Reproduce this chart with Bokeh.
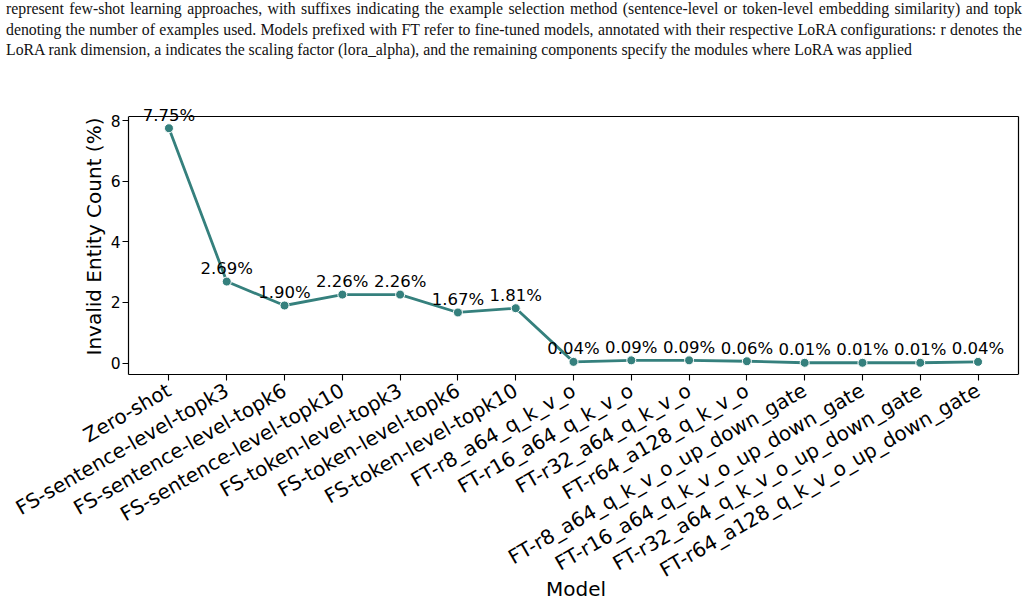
import math

from bokeh.embed import file_html
from bokeh.layouts import column
from bokeh.models import ColumnDataSource, Div, FixedTicker, Label, Range1d
from bokeh.plotting import figure
from bokeh.resources import INLINE

# Models compared, in plotting order
models = [
    "Zero-shot",
    "FS-sentence-level-topk3",
    "FS-sentence-level-topk6",
    "FS-sentence-level-topk10",
    "FS-token-level-topk3",
    "FS-token-level-topk6",
    "FS-token-level-topk10",
    "FT-r8_a64_q_k_v_o",
    "FT-r16_a64_q_k_v_o",
    "FT-r32_a64_q_k_v_o",
    "FT-r64_a128_q_k_v_o",
    "FT-r8_a64_q_k_v_o_up_down_gate",
    "FT-r16_a64_q_k_v_o_up_down_gate",
    "FT-r32_a64_q_k_v_o_up_down_gate",
    "FT-r64_a128_q_k_v_o_up_down_gate",
]

# Share of invalid entities per model (%)
invalid_pct = [7.75, 2.69, 1.90, 2.26, 2.26, 1.67, 1.81,
               0.04, 0.09, 0.09, 0.06, 0.01, 0.01, 0.01, 0.04]

y_ticks = [0, 2, 4, 6, 8]

caption_lines = [
    "represent few-shot learning approaches, with suffixes indicating the example selection method "
    "(sentence-level or token-level embedding similarity) and topk",
    "denoting the number of examples used. Models prefixed with FT refer to fine-tuned models, "
    "annotated with their respective LoRA configurations: r denotes the",
    "LoRA rank dimension, a indicates the scaling factor (lora_alpha), and the remaining components "
    "specify the modules where LoRA was applied",
]

LINE_COLOR = "#35807d"
SANS = "DejaVu Sans"

# Models sit at integer positions along x; the axis shows their names
xpos = list(range(len(models)))
src = ColumnDataSource(dict(x=xpos, pct=invalid_pct))

# Caption above the chart, justified like a paper figure caption
line_divs = "".join(
    '<div style="white-space:nowrap;text-align:justify;'
    f'text-align-last:{"justify" if i < 2 else "left"};">{line}</div>'
    for i, line in enumerate(caption_lines)
)
caption_html = (
    '<div style="width:1016px;margin:-1px 0 0 6px;'
    "font-family:'Liberation Serif',serif;font-size:15.8px;line-height:20.5px;"
    f'color:#111111;">{line_divs}</div>'
)
CAPTION_H = 62
caption = Div(text=caption_html, width=1029, height=CAPTION_H, margin=0,
              styles={"overflow": "hidden"})

# Axes box (data limits with 5% margins)
lo, hi = min(invalid_pct), max(invalid_pct)
ypad = 0.05 * (hi - lo)
xpad = 0.05 * (len(models) - 1)
box_x0, box_x1 = -xpad, len(models) - 1 + xpad
box_y0, box_y1 = lo - ypad, hi + ypad

# Box geometry in pixels; the drawing frame is a little larger than the box
# (above and to the right) so value labels can rise past the box's top edge.
BOX_LEFT, BOX_TOP, BOX_W, BOX_H = 128, 116, 890, 258
EXTRA_TOP, EXTRA_RIGHT = 18, 5
fig_w, fig_h = 1029, 605 - CAPTION_H

x_end = box_x1 + (box_x1 - box_x0) * EXTRA_RIGHT / BOX_W
y_end = box_y1 + (box_y1 - box_y0) * EXTRA_TOP / BOX_H

p = figure(
    x_range=Range1d(box_x0, x_end),
    y_range=Range1d(box_y0, y_end),
    width=fig_w, height=fig_h,
    min_border_left=BOX_LEFT,
    min_border_right=fig_w - BOX_LEFT - BOX_W - EXTRA_RIGHT,
    min_border_top=BOX_TOP - CAPTION_H - EXTRA_TOP,
    min_border_bottom=fig_h - (BOX_TOP - CAPTION_H) - BOX_H,
    output_backend="svg", toolbar_location=None,
    margin=0,
)
p.outline_line_color = None
p.xgrid.visible = False
p.ygrid.visible = False

# Top and right edges of the axes box
p.segment(x0=[box_x0, box_x1], y0=[box_y1, box_y0],
          x1=[box_x1, box_x1], y1=[box_y1, box_y1],
          line_color="black", line_width=1.2)

p.line("x", "pct", source=src, line_color=LINE_COLOR, line_width=2.8)
p.scatter("x", "pct", source=src, size=9, fill_color=LINE_COLOR,
          line_color="white", line_width=1)

# Value labels above each point
for xi, v in zip(xpos, invalid_pct):
    p.add_layout(Label(
        x=xi, y=v, text=f"{v:.2f}%",
        text_font=SANS, text_font_size="16.5px", text_color="black",
        text_align="center", text_baseline="alphabetic", y_offset=13,
    ))

for ax in (p.xaxis[0], p.yaxis[0]):
    ax.axis_line_color = "black"
    ax.axis_line_width = 1.2
    ax.major_tick_line_color = "black"
    ax.major_tick_line_width = 1.1
    ax.major_tick_out = 6
    ax.major_tick_in = 0
    ax.minor_tick_line_color = None
    ax.major_label_text_font = SANS
    ax.major_label_text_color = "black"
    ax.axis_label_text_font = SANS
    ax.axis_label_text_font_style = "normal"
    ax.axis_label_text_color = "black"

p.yaxis.bounds = (box_y0, box_y1)
p.yaxis.ticker = FixedTicker(ticks=y_ticks)
p.yaxis.major_label_text_font_size = "15.5px"
p.yaxis.major_label_standoff = 2
p.yaxis.axis_label = "Invalid Entity Count (%)"
p.yaxis.axis_label_text_font_size = "20px"
p.yaxis.axis_label_standoff = 2

p.xaxis.bounds = (box_x0, box_x1)
p.xaxis.ticker = FixedTicker(ticks=xpos)
p.xaxis.major_label_overrides = {i: name for i, name in zip(xpos, models)}
p.xaxis.major_label_orientation = math.pi / 6
p.xaxis.major_label_text_font_size = "20px"
p.xaxis.major_label_standoff = 8
p.xaxis.axis_label = "Model"
p.xaxis.axis_label_text_font_size = "20px"
p.xaxis.axis_label_standoff = -18

layout = column(caption, p, spacing=0, margin=0)

open("out.html", "w").write(file_html(layout, INLINE))
